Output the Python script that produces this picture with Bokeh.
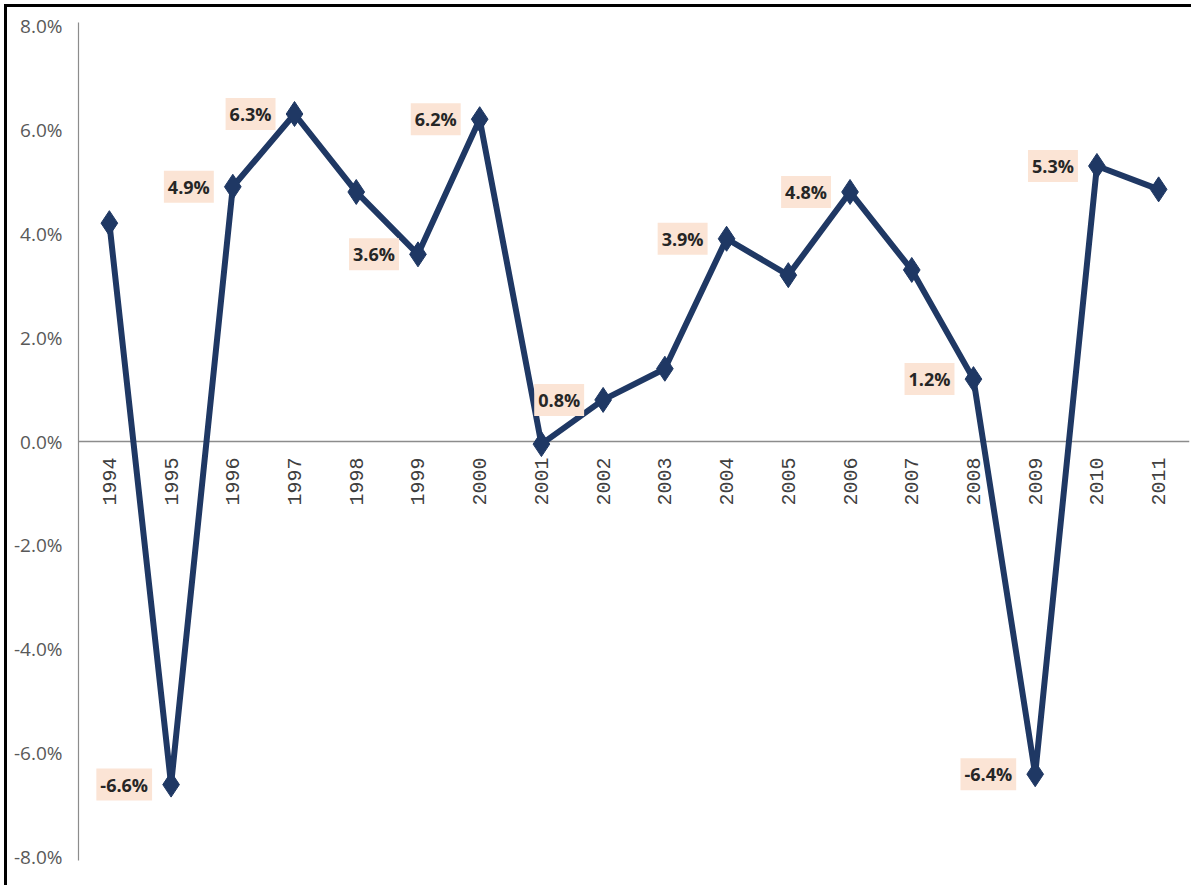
import math
from bokeh.plotting import figure
from bokeh.models import Range1d, FactorRange, Span, FixedTicker, PrintfTickFormatter, ColumnDataSource
from bokeh.core.properties import value
from bokeh.embed import file_html
from bokeh.resources import INLINE

# ---- data ----
years = ["1994", "1995", "1996", "1997", "1998", "1999", "2000", "2001", "2002",
         "2003", "2004", "2005", "2006", "2007", "2008", "2009", "2010", "2011"]
growth = [4.2, -6.6, 4.9, 6.3, 4.8, 3.6, 6.2, -0.05, 0.8,
          1.4, 3.9, 3.2, 4.8, 3.3, 1.2, -6.4, 5.3, 4.85]
labeled_years = ["1995", "1996", "1997", "1999", "2000", "2002",
                 "2004", "2006", "2008", "2009", "2010"]
y_ticks = [-8, -6, -4, -2, 0, 2, 4, 6, 8]

LINE = "#1F3864"

p = figure(width=1187, height=881, output_backend="svg", toolbar_location=None,
           x_range=FactorRange(factors=years), y_range=Range1d(-8.06, 8.06),
           x_axis_location=None,
           min_border_left=71, min_border_right=5, min_border_top=15, min_border_bottom=28)
p.styles = {"margin-left": "4px", "margin-top": "4px",
            "border-left": "3px solid black", "border-top": "3px solid black"}
p.outline_line_color = None
p.grid.visible = False
p.background_fill_color = "white"
p.border_fill_color = "white"

# y axis
ya = p.yaxis[0]
ya.ticker = FixedTicker(ticks=y_ticks)
ya.formatter = PrintfTickFormatter(format="%.1f%%")
ya.major_tick_in = 0
ya.major_tick_out = 0
ya.minor_tick_in = 0
ya.minor_tick_out = 0
ya.axis_line_color = "#8C8C8C"
ya.axis_line_width = 1.2
ya.major_label_standoff = 16
ya.major_label_text_font = "Open Sans"
ya.major_label_text_font_size = "19px"
ya.major_label_text_color = "#595959"

# horizontal axis line at zero
p.add_layout(Span(location=0, dimension="width", line_color="#8C8C8C", line_width=1.5, level="underlay"))

# year labels just under the zero line
ysrc = ColumnDataSource(dict(year=years, y=[0] * len(years), label=years))
p.text(x="year", y="y", text="label", source=ysrc, angle=math.pi / 2,
       text_align="right", text_baseline="middle", y_offset=16,
       text_font=value("Liberation Mono"), text_font_size="20px", text_color="#404040")

# series
src = ColumnDataSource(dict(year=years, v=growth))
p.line(x="year", y="v", source=src, line_color=LINE, line_width=6, line_join="round")
p.scatter(x="year", y="v", source=src, marker="diamond", size=25,
          fill_color=LINE, line_color=LINE)

# data labels
lab_vals = [growth[years.index(y)] for y in labeled_years]
lsrc = ColumnDataSource(dict(year=labeled_years, v=lab_vals,
                             label=[f"{v:.1f}%" for v in lab_vals]))
p.text(x="year", y="v", text="label", source=lsrc,
       text_align="right", text_baseline="middle", x_offset=-19,
       text_font=value("Open Sans"), text_font_style="bold", text_font_size="18px",
       text_color="#262626", background_fill_color="#FBE4D5", padding=4)

open("out.html", "w").write(file_html(p, INLINE))
